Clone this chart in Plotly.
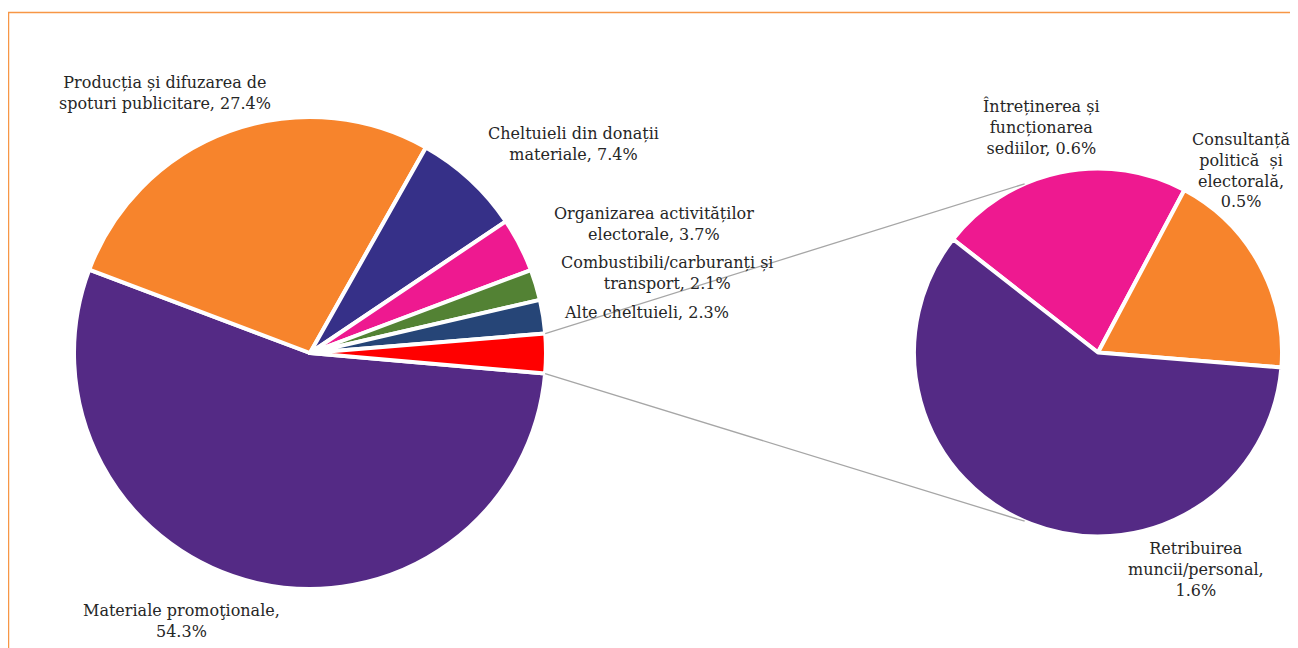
import math
import plotly.graph_objects as go

# ---------------- data ----------------
main_labels = [
    "Materiale promoţionale",
    "Producția și difuzarea de spoturi publicitare",
    "Cheltuieli din donații materiale",
    "Organizarea activităților electorale",
    "Combustibili/carburanți și transport",
    "Alte cheltuieli",
    "Alte categorii de cheltuieli",
]
main_known_values = [54.3, 27.4, 7.4, 3.7, 2.1, 2.3]
main_colors = ["#542A85", "#F7842C", "#363088", "#EE1990", "#538234", "#264577", "#FF0000"]

sub_labels = [
    "Întreținerea și funcționarea sediilor",
    "Consultanță politică  și electorală",
    "Retribuirea muncii/personal",
]
sub_values = [0.6, 0.5, 1.6]
sub_colors = ["#EE1990", "#F7842C", "#542A85"]

main_values = main_known_values + [round(sum(sub_values), 1)]

# wrapped label texts (line breaks only)
main_label_wrap = [
    "Materiale promoţionale,<br>",
    "Producția și difuzarea de<br>spoturi publicitare, ",
    "Cheltuieli din donații<br>materiale, ",
    "Organizarea activităților<br>electorale, ",
    "Combustibili/carburanți și<br>transport, ",
    "Alte cheltuieli, ",
]
sub_label_wrap = [
    "Întreținerea și<br>funcționarea<br>sediilor, ",
    "Consultanță<br>politică  și<br>electorală,<br>",
    "Retribuirea<br>muncii/personal,<br>",
]

# ---------------- layout geometry (reference pixel coords) ----------------
W, H = 1298, 648
OFF = 8                      # page body margin
FW, FH = W - OFF, H - OFF    # figure size
cxL, cyL, rL = 310, 353, 236
cxR, cyR, rR = 1098, 352.5, 184
rotL = 95.0
rotR = -52.0
conn_angle = 113.5           # where connectors meet the second pie (deg from +x, up/down)

main_label_pos = [(181, 621), (165, 93), (573, 144), (654, 224), (667, 273), (646, 312)]
sub_label_pos = [(1041, 127), (1241, 170), (1196, 569)]

FONT = "DejaVu Serif"
FSIZE = 16
TXT = "#262626"


def px(x):
    return (x - OFF) / FW


def py(y):
    return 1 - (y - OFF) / FH


def dom(cx, cy, r):
    return dict(x=[px(cx - r), px(cx + r)], y=[py(cy + r), py(cy - r)])


fig = go.Figure()
fig.add_trace(go.Pie(
    labels=main_labels, values=main_values, sort=False, direction="clockwise",
    rotation=rotL, textinfo="none", hole=0,
    marker=dict(colors=main_colors, line=dict(color="white", width=4)),
    domain=dom(cxL, cyL, rL), showlegend=False,
))
fig.add_trace(go.Pie(
    labels=sub_labels, values=sub_values, sort=False, direction="clockwise",
    rotation=rotR, textinfo="none",
    marker=dict(colors=sub_colors, line=dict(color="white", width=4)),
    domain=dom(cxR, cyR, rR), showlegend=False,
))

# ---------------- connector lines (computed from data) ----------------
total = sum(main_values)
start_red = rotL + 360.0 * sum(main_values[:-1]) / total
end_red = rotL + 360.0


def pt(cx, cy, r, a_deg):
    a = math.radians(a_deg)
    return cx + r * math.sin(a), cy - r * math.cos(a)


p_top = pt(cxL, cyL, rL, start_red)
p_bot = pt(cxL, cyL, rL, end_red)
a = math.radians(conn_angle)
q_top = (cxR + rR * math.cos(a), cyR - rR * math.sin(a))
q_bot = (cxR + rR * math.cos(a), cyR + rR * math.sin(a))

for p, q in ((p_top, q_top), (p_bot, q_bot)):
    fig.add_shape(type="line", xref="paper", yref="paper",
                  x0=px(p[0]), y0=py(p[1]), x1=px(q[0]), y1=py(q[1]),
                  line=dict(color="#A6A6A6", width=1.3), layer="above")

# frame
fig.add_shape(type="rect", xref="paper", yref="paper",
              x0=px(8.5), y0=-0.05, x1=1.05, y1=py(12.5),
              line=dict(color="#F79646", width=1.5), layer="below")

# ---------------- labels ----------------
for wrap, v, (x, y) in zip(main_label_wrap, main_known_values, main_label_pos):
    fig.add_annotation(x=px(x), y=py(y), xref="paper", yref="paper",
                       text=f"{wrap}{v}%", showarrow=False, align="center",
                       xanchor="center", yanchor="middle",
                       font=dict(family=FONT, size=FSIZE, color=TXT))
for wrap, v, (x, y) in zip(sub_label_wrap, sub_values, sub_label_pos):
    fig.add_annotation(x=px(x), y=py(y), xref="paper", yref="paper",
                       text=f"{wrap}{v}%", showarrow=False, align="center",
                       xanchor="center", yanchor="middle",
                       font=dict(family=FONT, size=FSIZE, color=TXT))

fig.update_layout(
    width=FW, height=FH, margin=dict(l=0, r=0, t=0, b=0),
    paper_bgcolor="white", plot_bgcolor="white",
    font=dict(family=FONT, size=FSIZE, color=TXT),
)

fig.write_html("out.html")
